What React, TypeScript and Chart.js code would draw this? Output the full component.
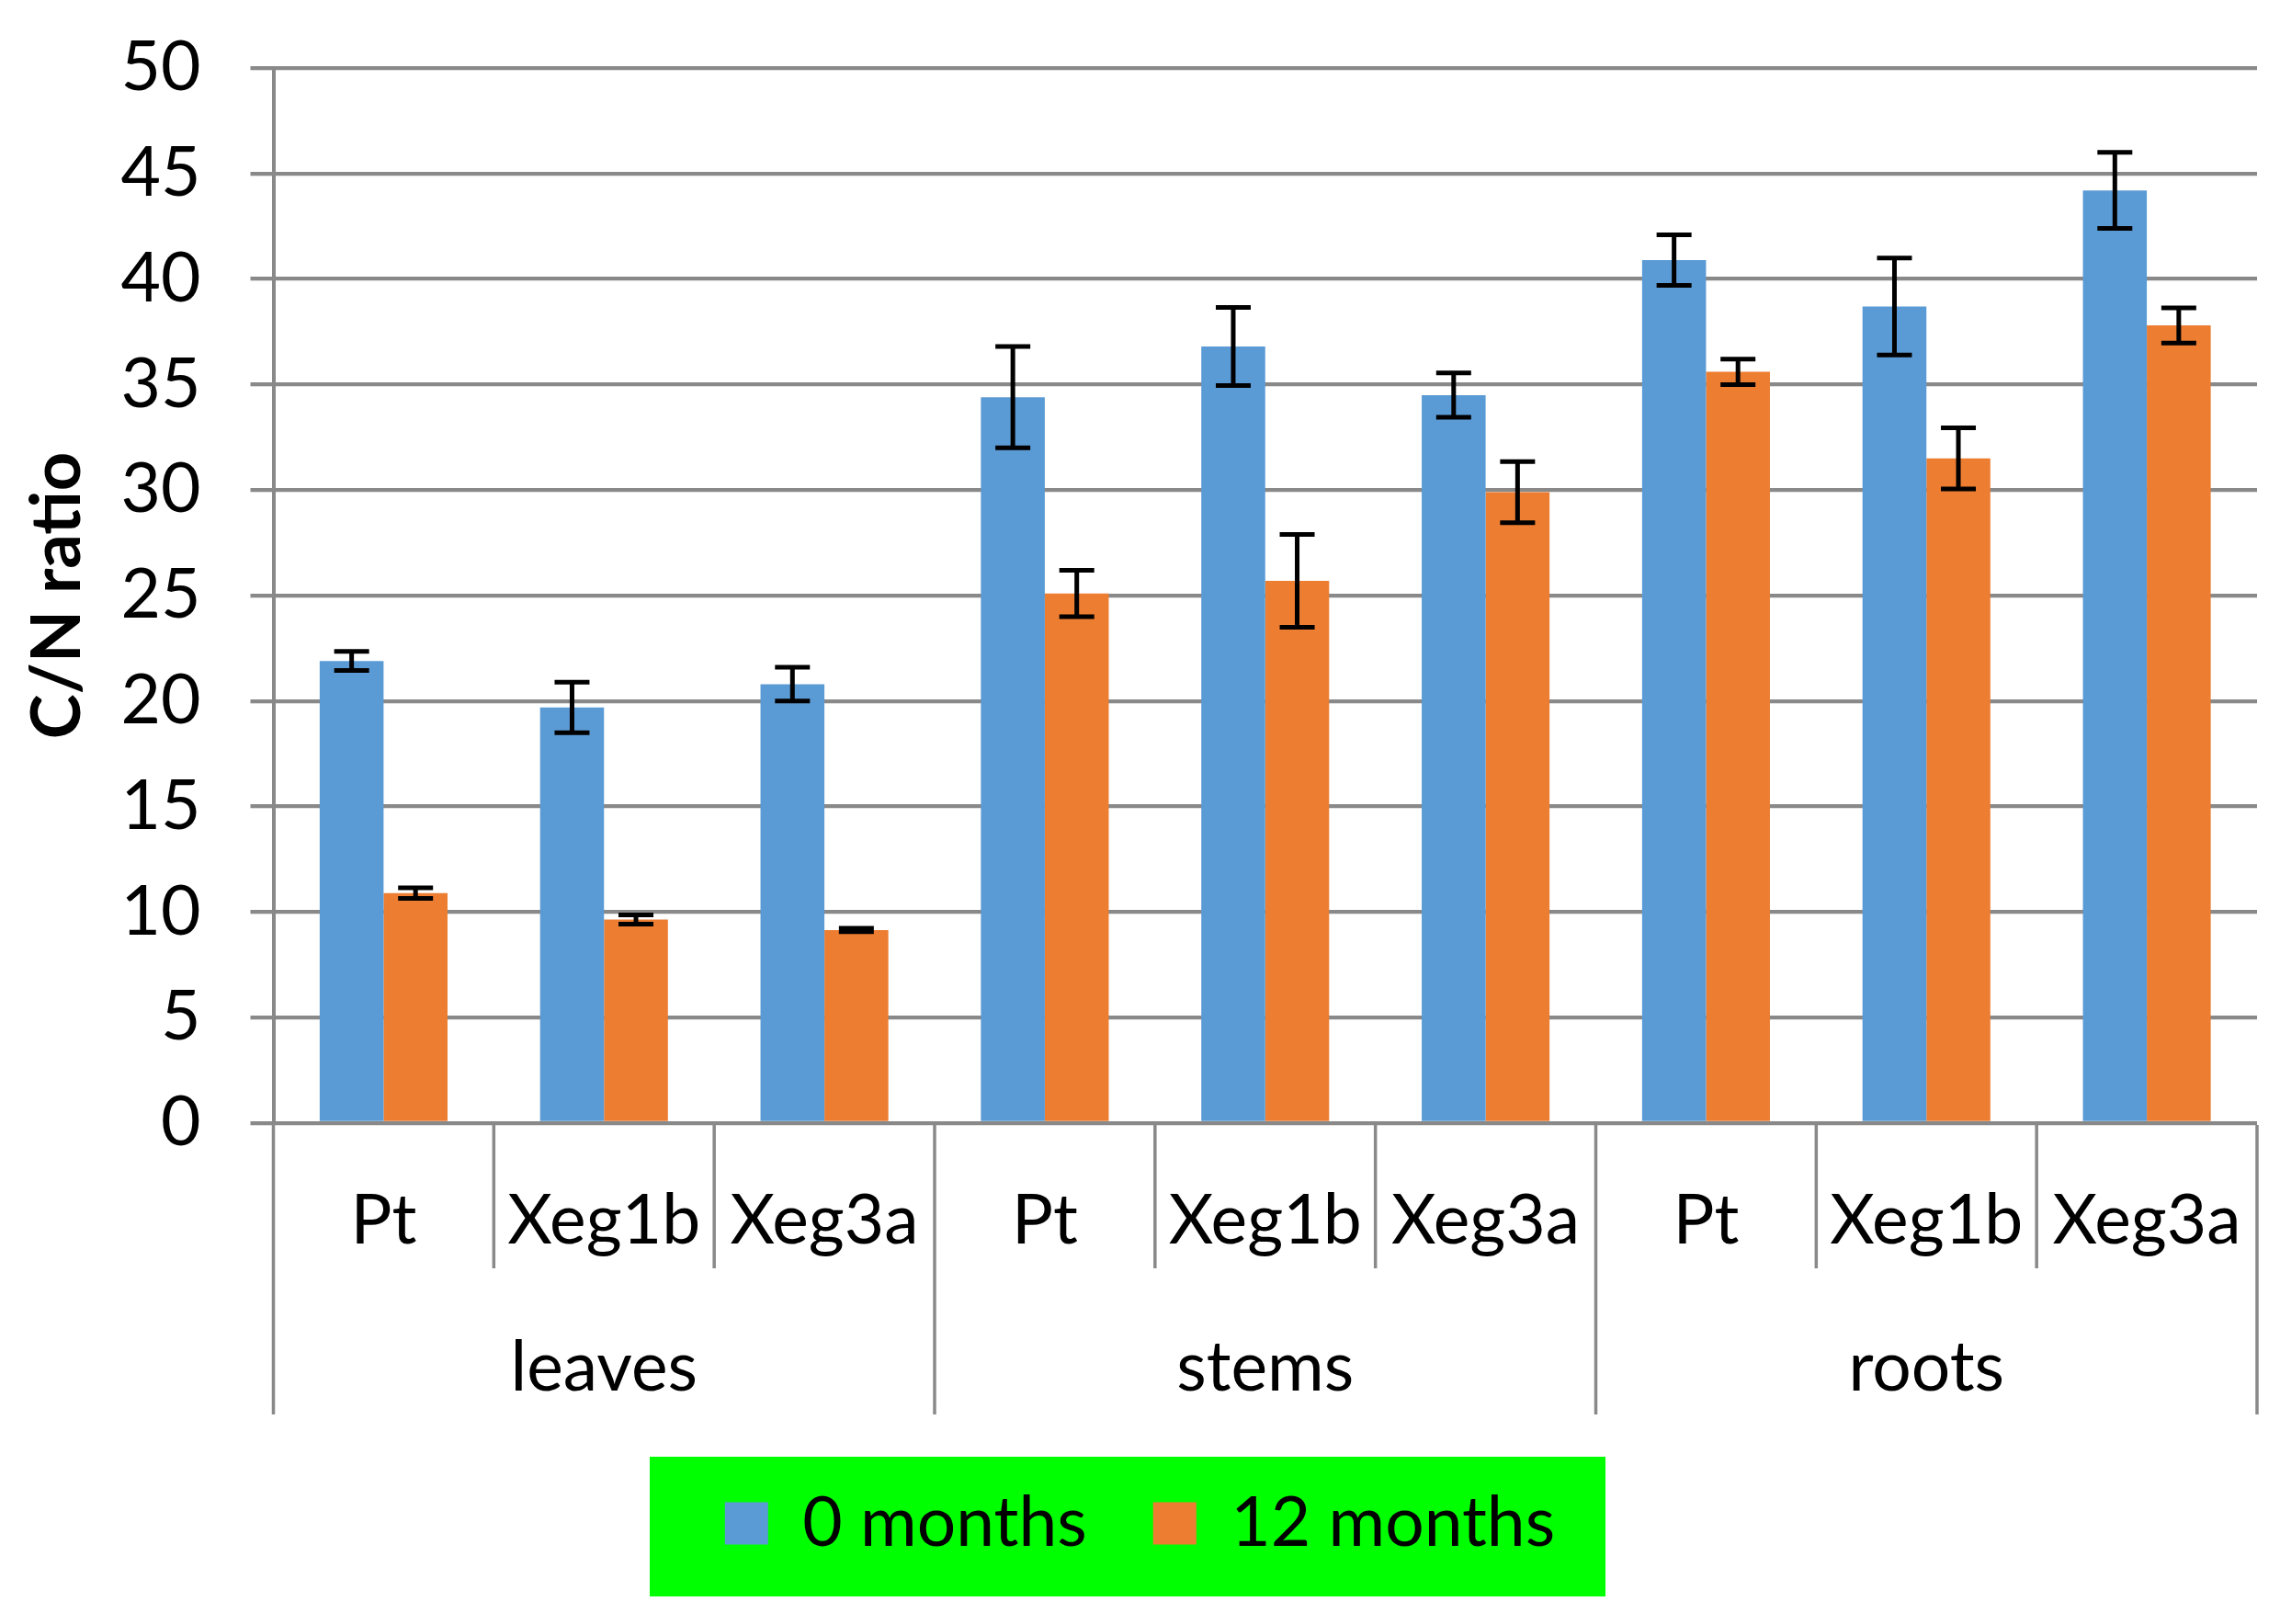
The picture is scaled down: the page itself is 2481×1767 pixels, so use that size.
import { useEffect, useRef } from 'react'
import { Chart, registerables } from 'chart.js'
Chart.register(...registerables)

const W = 2481
const H = 1767

const TISSUES = ['leaves', 'stems', 'roots']
const LINES = ['Pt', 'Xeg1b', 'Xeg3a']
const LABELS = ['Pt', 'Xeg1b', 'Xeg3a', 'Pt', 'Xeg1b', 'Xeg3a', 'Pt', 'Xeg1b', 'Xeg3a']
const SERIES = ['0 months', '12 months']

const MONTHS_0     = [21.9, 19.7, 20.8, 34.4, 36.8, 34.5, 40.9, 38.7, 44.2]
const MONTHS_0_ERR = [0.45, 1.2, 0.8, 2.4, 1.85, 1.05, 1.2, 2.3, 1.8]
const MONTHS_12     = [10.9, 9.65, 9.15, 25.1, 25.7, 29.9, 35.6, 31.5, 37.8]
const MONTHS_12_ERR = [0.25, 0.22, 0.08, 1.1, 2.2, 1.45, 0.6, 1.45, 0.83]

const Y_MIN = 0
const Y_MAX = 50
const Y_STEP = 5

const BLUE   = '#5B9BD5'
const ORANGE = '#ED7D31'
const GRID   = '#898989'
const FONT   = 'Lato'

const ERRORS = [MONTHS_0_ERR, MONTHS_12_ERR]

// error bars drawn from the y scale
const errorBars = {
  id: 'errorBars',
  afterDatasetsDraw(chart: Chart) {
    const { ctx } = chart
    const y = chart.scales.y
    ctx.save()
    ctx.strokeStyle = '#000'
    ctx.lineWidth = 5
    chart.data.datasets.forEach((ds, d) => {
      const meta = chart.getDatasetMeta(d)
      meta.data.forEach((bar: any, i) => {
        const v = ds.data[i] as number
        const e = ERRORS[d][i]
        const top = y.getPixelForValue(v + e)
        const bot = y.getPixelForValue(v - e)
        const cx = bar.x
        const half = 19
        ctx.beginPath()
        ctx.moveTo(cx, top); ctx.lineTo(cx, bot)
        ctx.moveTo(cx - half, top); ctx.lineTo(cx + half, top)
        ctx.moveTo(cx - half, bot); ctx.lineTo(cx + half, bot)
        ctx.stroke()
      })
    })
    ctx.restore()
  },
}

// two-level category axis + green legend background
const groupAxis = {
  id: 'groupAxis',
  beforeDraw(chart: Chart) {
    const { ctx } = chart
    ctx.save()
    ctx.fillStyle = '#00FF00'
    ctx.fillRect(707, 1585, 1040, 152)
    ctx.restore()
  },
  afterDraw(chart: Chart) {
    const { ctx, chartArea } = chart
    const x = chart.scales.x
    const w = x.getPixelForValue(1) - x.getPixelForValue(0)
    const start = x.getPixelForValue(0) - w / 2
    const b = chartArea.bottom
    ctx.save()
    ctx.strokeStyle = GRID
    ctx.lineWidth = 3.5
    for (let k = 0; k <= LABELS.length; k++) {
      const px = start + k * w
      const long = k % LINES.length === 0
      ctx.beginPath()
      ctx.moveTo(px, b + 2)
      ctx.lineTo(px, b + (long ? 317 : 158))
      ctx.stroke()
    }
    ctx.fillStyle = '#000'
    ctx.textAlign = 'center'
    ctx.textBaseline = 'alphabetic'
    ctx.font = `75px ${FONT}`
    LABELS.forEach((l, i) => ctx.fillText(l, x.getPixelForValue(i), b + 131))
    TISSUES.forEach((t, g) => {
      const cx = x.getPixelForValue(g * LINES.length + 1)
      ctx.fillText(t, cx, b + 291)
    })
    ctx.restore()
  },
}

export default function App() {
  const canvasRef = useRef<HTMLCanvasElement>(null)
  const chartRef  = useRef<Chart | null>(null)

  useEffect(() => {
    document.body.style.margin = '0'
    if (!canvasRef.current) return
    chartRef.current?.destroy()
    chartRef.current = new Chart(canvasRef.current, {
      type: 'bar',
      data: {
        labels: LABELS,
        datasets: [
          { label: SERIES[0], data: MONTHS_0,  backgroundColor: BLUE,   borderWidth: 0 },
          { label: SERIES[1], data: MONTHS_12, backgroundColor: ORANGE, borderWidth: 0 },
        ],
      },
      options: {
        responsive: false,
        animation: false,
        devicePixelRatio: 1,
        layout: { padding: { left: 25, right: 25, top: 74, bottom: 62 } },
        datasets: { bar: { categoryPercentage: 0.58, barPercentage: 1 } },
        plugins: {
          tooltip: { enabled: false },
          legend: {
            position: 'bottom',
            labels: {
              font: { size: 75, family: FONT },
              color: '#000',
              boxWidth: 47,
              boxHeight: 46,
              padding: 72,
            },
          },
        },
        scales: {
          x: {
            ticks: { display: false },
            grid: { display: false },
            border: { display: false },
            afterFit: (s: any) => { s.height = H - 62 - 1222 - (s.chart.legend?.height ?? 160) },
          },
          y: {
            min: Y_MIN,
            max: Y_MAX,
            ticks: { stepSize: Y_STEP, color: '#000', font: { size: 75, family: FONT }, padding: 54 },
            grid: { color: GRID, lineWidth: 4.3, tickLength: 25 },
            border: { display: true, color: GRID, width: 4 },
            title: {
              display: true,
              text: 'C/N ratio',
              color: '#000',
              font: { size: 74, weight: 'bold', family: FONT },
              padding: { top: -6, bottom: 0 },
            },
            afterFit: (s: any) => {
              s.width = 272.5
              s.paddingTop = 0
              s.paddingBottom = 0
            },
          },
        },
      },
      plugins: [errorBars, groupAxis],
    })
    return () => { chartRef.current?.destroy() }
  }, [])

  return <canvas ref={canvasRef} width={W} height={H} />
}
